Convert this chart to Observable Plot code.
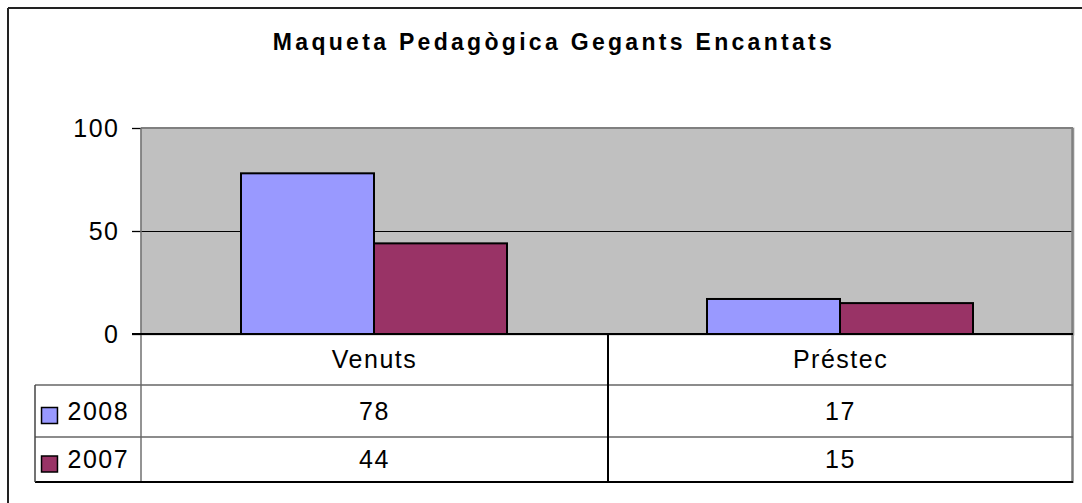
<!DOCTYPE html>
<html><head><meta charset="utf-8">
<script src="https://cdn.jsdelivr.net/npm/d3@7"></script>
<script src="https://cdn.jsdelivr.net/npm/@observablehq/plot@0.6"></script>
<style>html,body{margin:0;padding:0;background:#fff;} #chart{position:relative;width:1082px;height:503px;overflow:hidden;}</style>
</head><body><div id="chart"></div>
<script>
const title = "Maqueta Pedagògica Gegants Encantats";
const categories = ["Venuts", "Préstec"];
const series = ["2008", "2007"];
const values2008 = [78, 17];
const values2007 = [44, 15];
const yTicks = [0, 50, 100];
const seriesColors = ["#9999ff", "#993366"];

const data = [];
categories.forEach((c, i) => {
  data.push({cat: c, series: series[0], value: values2008[i]});
  data.push({cat: c, series: series[1], value: values2007[i]});
});

const font = "'Liberation Sans', Arial, sans-serif";
const W = 1082, H = 503;
const M = {top: 128, right: 9, bottom: 169, left: 141};
const rowCat = 25.5, row1 = 77, row2 = 125.5;
const txt = {fontSize: 25, lineAnchor: "middle"};

const plot = Plot.plot({
  width: W, height: H,
  marginTop: M.top, marginRight: M.right, marginBottom: M.bottom, marginLeft: M.left,
  style: {fontFamily: font, fontSize: "25px", letterSpacing: "1.5px", color: "#000", background: "#fff", overflow: "visible"},
  fx: {domain: categories, padding: 0, axis: null},
  x: {domain: series, paddingInner: 0, paddingOuter: 0.75, axis: null},
  y: {domain: [0, 100], axis: null},
  color: {domain: series, range: seriesColors},
  marks: [
    Plot.frame({fill: "#c0c0c0", stroke: "#c0c0c0", strokeWidth: 2}),
    Plot.ruleY([50], {stroke: "#000", strokeWidth: 1.2}),
    Plot.barY(data, {fx: "cat", x: "series", y: "value", fill: "series", stroke: "#000", strokeWidth: 2}),
    Plot.axisY(yTicks, {label: null, tickSize: 9, tickPadding: 13, fontSize: 25, strokeWidth: 1.3}),
    Plot.text(categories, {fx: d => d, text: d => d, frameAnchor: "bottom", dy: rowCat, ...txt}),
    Plot.text(data.filter(d => d.series === series[0]), {fx: "cat", text: "value", frameAnchor: "bottom", dy: row1, ...txt}),
    Plot.text(data.filter(d => d.series === series[1]), {fx: "cat", text: "value", frameAnchor: "bottom", dy: row2, ...txt}),
    Plot.text([series[0]], {fx: () => categories[0], text: d => d, frameAnchor: "bottom-left", textAnchor: "start", dx: -74, dy: row1, ...txt}),
    Plot.text([series[1]], {fx: () => categories[0], text: d => d, frameAnchor: "bottom-left", textAnchor: "start", dx: -74, dy: row2, ...txt}),
    Plot.dot([series[0]], {fx: () => categories[0], frameAnchor: "bottom-left", dx: -92, dy: 81, symbol: "square", r: 9, fill: d => d, stroke: "#000", strokeWidth: 1.5}),
    Plot.dot([series[1]], {fx: () => categories[0], frameAnchor: "bottom-left", dx: -92, dy: 129.5, symbol: "square", r: 9, fill: d => d, stroke: "#000", strokeWidth: 1.5})
  ]
});

document.getElementById("chart").appendChild(plot);

// chart chrome: plot-area border, data-table grid, outer frame, title
const svg = d3.select(plot);
const L = M.left, R = W - M.right, T = M.top, B = H - M.bottom;
const r1 = B + 51, r2 = B + 103, r3 = B + 148;
const mid = L + (R - L) / categories.length + 1;
const g = svg.append("g").attr("fill", "none");
const line = (x1, y1, x2, y2, stroke, w) => g.append("line").attr("x1", x1).attr("y1", y1).attr("x2", x2).attr("y2", y2).attr("stroke", stroke).attr("stroke-width", w);
line(L, T, R, T, "#808080", 2);
line(L, T, L, r3, "#707070", 1.5);
line(R - 0.5, T, R - 0.5, r3 + 1, "#808080", 2.5);
line(L - 9, B, R, B, "#000", 2);
line(L - 106, r1, R, r1, "#666", 1.5);
line(L - 106, r2, R, r2, "#666", 1.5);
line(L - 106, r3, R, r3, "#000", 2);
line(L - 106, r1, L - 106, r3, "#444", 1.5);
line(mid, B, mid, r3, "#000", 2);
line(8, 8, W + 5, 8, "#222", 2);
line(8, 8, 8, H + 5, "#222", 2);
svg.append("text").attr("x", 554).attr("y", 50).attr("text-anchor", "middle")
  .style("font-family", font).style("font-size", "23px").style("font-weight", "bold").style("letter-spacing", "3.3px")
  .attr("fill", "#000").text(title);
</script></body></html>
